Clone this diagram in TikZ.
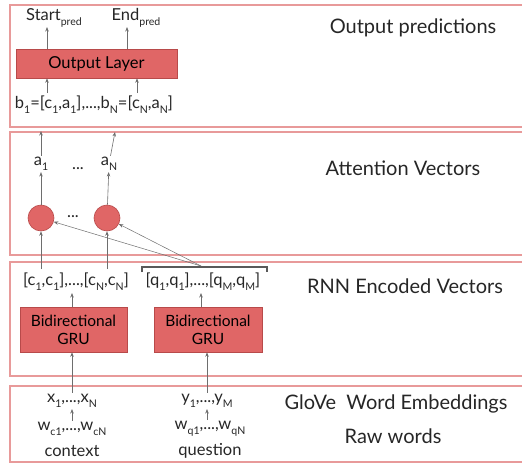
\documentclass[tikz,border=0pt]{standalone}
\usepackage{fontspec}
\setmainfont{Lato}
\usetikzlibrary{arrows.meta}
\definecolor{boxred}{HTML}{E06666}
\definecolor{boxedge}{HTML}{B84A4A}
\definecolor{panelred}{HTML}{E89A9A}
\definecolor{arrgray}{HTML}{6E6E6E}
\newcommand{\lo}[1]{\raisebox{-0.32em}{\scalebox{0.64}{#1}}}
\tikzset{
  panel/.style={draw=panelred, line width=1.2pt},
  layer/.style={draw=boxedge, fill=boxred, line width=0.6pt, inner sep=0pt, align=center, font=\fontsize{16.5}{18}\selectfont},
  lbl/.style={inner sep=1pt, font=\fontsize{16.5}{18}\selectfont, text=black!85},
  title/.style={inner sep=1pt, font=\fontsize{20}{22}\selectfont, text=black!85},
  arr/.style={draw=arrgray, line width=0.6pt, -{Stealth[length=4.5pt,width=3.5pt]}},
  cell/.style={circle, draw=boxedge, fill=boxred, line width=0.6pt, minimum size=26pt, inner sep=0pt}
}

\begin{document}
\begin{tikzpicture}[x=1pt,y=-1pt]
	\useasboundingbox (0,0) rectangle (522,463);

	% panels
	\draw[panel] (10,5) rectangle (540,127);
	\draw[panel] (10,132) rectangle (540,255);
	\draw[panel] (10,262) rectangle (540,376);
	\draw[panel] (10,386) rectangle (540,462);

	% right hand titles
	\node[title] (tout) at (413,28) {Output predictions};
	\node[title] (tatt) at (403,168) {Attention Vectors};
	\node[title] (trnn) at (405,286) {RNN Encoded Vectors};
	\node[title] (tglo) at (396,404) {GloVe\ \ Word Embeddings};
	\node[title] (traw) at (393,436) {Raw words};

	% output predictions
	\node[layer, minimum width=161pt, minimum height=29pt] (outl) at (96.5,63.5) {Output Layer};
	\node[lbl] (start) at (54,18) {Start\lo{pred}};
	\node[lbl] (end) at (136,18) {End\lo{pred}};
	\node[lbl] (bvec) at (94,105) {b\lo{1}=[c\lo{1},a\lo{1}],...,b\lo{N}=[c\lo{N},a\lo{N}]};
	\coordinate (s1) at (47,27);
	\coordinate (e1) at (127,27);
	\draw[arr] (outl.north -| s1) -- (s1);
	\draw[arr] (outl.north -| e1) -- (e1);
	\draw[arr] (47,93) -- (outl.south -| 47,0);
	\draw[arr] (137,93) -- (outl.south -| 137,0);

	% attention vectors
	\node[lbl] (a1) at (41,164) {a\lo{1}};
	\node[lbl] (adots) at (78,169) {...};
	\node[lbl] (aN) at (109,164) {a\lo{N}};
	\node[cell] (c1) at (41,218) {};
	\node[lbl] (cdots) at (73,217) {...};
	\node[cell] (cN) at (107,218) {};
	\coordinate (b1in) at (41,131);
	\coordinate (bNin) at (115,132);
	\draw[arr] (c1) -- (a1);
	\draw[arr] (cN) -- (aN);
	\draw[arr] (a1) -- (b1in);
	\draw[arr] (aN) -- (bNin);

	% rnn encoded vectors
	\node[lbl] (cvec) at (76,282) {[c\lo{1},c\lo{1}],...,[c\lo{N},c\lo{N}]};
	\node[lbl] (qvec) at (203,282) {[q\lo{1},q\lo{1}],...,[q\lo{M},q\lo{M}]};
	\node[layer, font=\fontsize{15.5}{18}\selectfont, minimum width=107pt, minimum height=45pt] (gru1) at (73.5,329.5) {Bidirectional\\GRU};
	\node[layer, font=\fontsize{15.5}{18}\selectfont, minimum width=108pt, minimum height=45pt] (gru2) at (208,329.5) {Bidirectional\\GRU};
	\draw[line width=1.2pt, draw=black!65] (142,272) -- (142,267) -- (267,267) -- (267,272);
	\coordinate (qbr) at (201,266);
	\draw[arr] (gru1.north -| 72,0) -- (72,293);
	\draw[arr] (gru2.north -| 201,0) -- (201,293);
	\draw[arr] (41,269) -- (c1);
	\draw[arr] (107,269) -- (cN);
	\draw[arr, line width=0.5pt] (qbr) -- (c1);
	\draw[arr, line width=0.5pt] (qbr) -- (cN);

	% word embeddings and raw words
	\node[lbl] (xvec) at (72,401) {x\lo{1},...,x\lo{N}};
	\node[lbl] (yvec) at (207,401) {y\lo{1},...,y\lo{M}};
	\node[lbl] (wc) at (72,429) {w\lo{c1},...,w\lo{cN}};
	\node[lbl] (wq) at (210,429) {w\lo{q1},...,w\lo{qN}};
	\node[lbl] (ctx) at (72,451) {context};
	\node[lbl] (qst) at (210,451) {question};
	\draw[arr] (xvec.north -| 72,0) -- (gru1.south -| 72,0);
	\draw[arr] (yvec.north -| 207,0) -- (gru2.south -| 207,0);
	\draw[arr] (wc) -- (xvec);
	\draw[arr] (wq.north -| 207,0) -- (yvec.south -| 207,0);
\end{tikzpicture}
\end{document}
